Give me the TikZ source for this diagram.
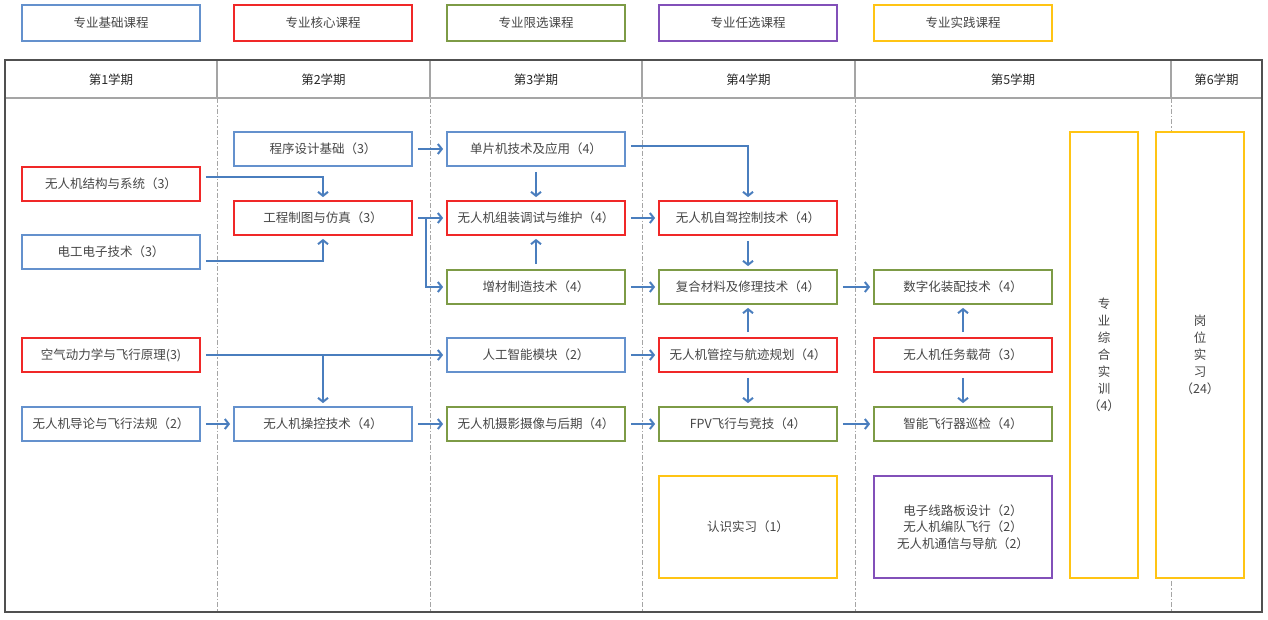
\documentclass[tikz,border=0pt]{standalone}
\usepackage{fontspec}
\setmainfont{Noto Sans CJK SC}
\usetikzlibrary{arrows.meta}
\definecolor{cblue}{RGB}{100,145,205}
\definecolor{cred}{RGB}{240,40,40}
\definecolor{cgreen}{RGB}{125,155,70}
\definecolor{cpurple}{RGB}{130,80,185}
\definecolor{cyellow}{RGB}{255,196,20}
\definecolor{arrc}{RGB}{74,126,190}
\definecolor{txt}{RGB}{70,70,70}
\definecolor{frame}{RGB}{80,80,80}
\definecolor{sepc}{RGB}{165,165,165}
\begin{document}
\begin{tikzpicture}[x=1pt,y=-1pt,
  font=\fontsize{12.5}{15}\selectfont,
  box/.style={draw, line width=1.8pt, fill=white, minimum width=178pt, minimum height=34pt, inner sep=0pt, text=txt},
  cb/.style={box, draw=cblue},
  cr/.style={box, draw=cred},
  cg/.style={box, draw=cgreen},
  cp/.style={box, draw=cpurple},
  cy/.style={box, draw=cyellow},
  hd/.style={text=black!85, inner sep=0pt},
  arr/.style={draw=arrc, line width=2pt, -{Straight Barb[length=4pt,width=10pt]}, shorten <=5pt, shorten >=3pt},
  sepsolid/.style={draw=sepc, line width=1.3pt},
  sepdash/.style={draw=sepc, line width=1pt, dash pattern=on 5pt off 2pt on 1.5pt off 2pt}
]
\useasboundingbox (0,0) rectangle (1268,619);

% legend
\node[cb, minimum height=36pt] (l1) at (111,23) {专业基础课程};
\node[cr, minimum height=36pt] (l2) at (323,23) {专业核心课程};
\node[cg, minimum height=36pt] (l3) at (536,23) {专业限选课程};
\node[cp, minimum height=36pt] (l4) at (748,23) {专业任选课程};
\node[cy, minimum height=36pt] (l5) at (963,23) {专业实践课程};

% table
\foreach \x in {217,430,642,855,1171}{
  \draw[sepsolid] (\x,60) -- (\x,98);
  \draw[sepdash] (\x,98) -- (\x,612);
}
\draw[sepsolid, line width=1.6pt] (5,98) -- (1262,98);
\draw[frame, line width=2pt] (5,60) rectangle (1262,612);

\node[hd] (h1) at (111,80) {第1学期};
\node[hd] (h2) at (323.5,80) {第2学期};
\node[hd] (h3) at (536,80) {第3学期};
\node[hd] (h4) at (748.5,80) {第4学期};
\node[hd] (h5) at (1013,80) {第5学期};
\node[hd] (h6) at (1216.5,80) {第6学期};

% courses
\node[cr] (jg) at (111,184) {无人机结构与系统（3）};
\node[cb] (dg) at (111,252) {电工电子技术（3）};
\node[cr] (kq) at (111,355) {空气动力学与飞行原理(3)};
\node[cb] (dl) at (111,424) {无人机导论与飞行法规（2）};
\node[cb] (cx) at (323,149) {程序设计基础（3）};
\node[cr] (gc) at (323,218) {工程制图与仿真（3）};
\node[cb] (cz) at (323,424) {无人机操控技术（4）};
\node[cb] (dp) at (536,149) {单片机技术及应用（4）};
\node[cr] (zz) at (536,218) {无人机组装调试与维护（4）};
\node[cg] (zc) at (536,287) {增材制造技术（4）};
\node[cb] (rg) at (536,355) {人工智能模块（2）};
\node[cg] (sy) at (536,424) {无人机摄影摄像与后期（4）};
\node[cr] (zj) at (748,218) {无人机自驾控制技术（4）};
\node[cg] (fh) at (748,287) {复合材料及修理技术（4）};
\node[cr] (gk) at (748,355) {无人机管控与航迹规划（4）};
\node[cg] (fpv) at (748,424) {FPV飞行与竞技（4）};
\node[cy, minimum height=102pt] (rs) at (748,527) {认识实习（1）};
\node[cg] (sz) at (963,287) {数字化装配技术（4）};
\node[cr] (rw) at (963,355) {无人机任务载荷（3）};
\node[cg] (xj) at (963,424) {智能飞行器巡检（4）};
\node[cp, minimum height=102pt, align=center, font=\fontsize{12.5}{16.5}\selectfont] (rx) at (963,527) {电子线路板设计（2）\\无人机编队飞行（2）\\无人机通信与导航（2）};
\node[cy, minimum width=68pt, minimum height=446pt, align=center, font=\fontsize{12.5}{17}\selectfont] (zh) at (1104,355) {专\\业\\综\\合\\实\\训\\（4）};
\node[cy, minimum width=88pt, minimum height=446pt, align=center, font=\fontsize{12.5}{17}\selectfont] (gw) at (1200,355) {岗\\位\\实\\习\\（24）};

% connectors
\draw[arr] ([yshift=7pt]jg.east) -| (gc.north);
\draw[arr] ([yshift=-9pt]dg.east) -| (gc.south);
\draw[arr] (cx) -- (dp);
\draw[arr] (gc) -- (zz);
\coordinate (b1) at ([xshift=13pt]gc.east);
\draw[arr, shorten <=0pt] (b1) |- (zc.west);
\draw[arr] (dp) -- (zz);
\draw[arr] (zc) -- (zz);
\draw[arr] ([yshift=3pt]dp.east) -| (zj.north);
\draw[arr] (zz) -- (zj);
\draw[arr] (zc) -- (fh);
\draw[arr] (zj) -- (fh);
\draw[arr] (gk) -- (fh);
\draw[arr] (fh) -- (sz);
\draw[arr] (kq) -- (rg);
\coordinate (b2) at (cz.north |- kq.east);
\draw[arr, shorten <=0pt] (b2) -- (cz);
\draw[arr] (rg) -- (gk);
\draw[arr] (gk) -- (fpv);
\draw[arr] (dl) -- (cz);
\draw[arr] (cz) -- (sy);
\draw[arr] (sy) -- (fpv);
\draw[arr] (fpv) -- (xj);
\draw[arr] (rw) -- (sz);
\draw[arr] (rw) -- (xj);
\end{tikzpicture}
\end{document}
